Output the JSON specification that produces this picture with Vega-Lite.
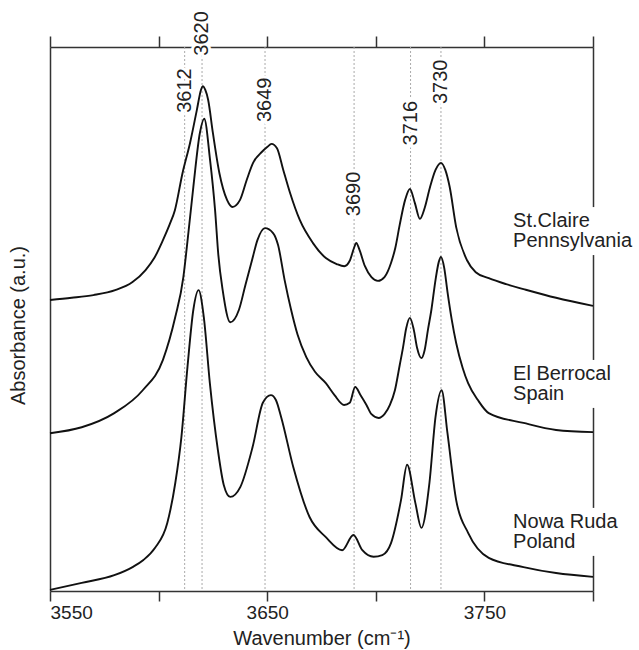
{
  "$schema": "https://vega.github.io/schema/vega-lite/v6.json",
  "autosize": {"type": "none"},
  "padding": {"left": 50, "top": 47, "right": 46, "bottom": 59},
  "width": 543,
  "height": 544,
  "background": "white",
  "config": {
    "font": "Liberation Sans",
    "view": {"stroke": null},
    "axis": {"domainColor": "#333", "domainWidth": 1.5, "tickColor": "#333", "tickWidth": 1.5, "grid": false, "labelColor": "#222", "titleColor": "#222", "titleFontWeight": "normal", "zindex": 0}
  },
  "datasets": {
    "spectra": [
      {"s": "St.Claire", "wn": 3550, "a": 53.5}, {"s": "St.Claire", "wn": 3560, "a": 53.9}, {"s": "St.Claire", "wn": 3570, "a": 54.4}, {"s": "St.Claire", "wn": 3580, "a": 55.3}, {"s": "St.Claire", "wn": 3588, "a": 56.8}, {"s": "St.Claire", "wn": 3594, "a": 59.0}, {"s": "St.Claire", "wn": 3598, "a": 61.2}, {"s": "St.Claire", "wn": 3602, "a": 64.5}, {"s": "St.Claire", "wn": 3605, "a": 67.3}, {"s": "St.Claire", "wn": 3607.5, "a": 70.0}, {"s": "St.Claire", "wn": 3611, "a": 76.8}, {"s": "St.Claire", "wn": 3614.5, "a": 82.4}, {"s": "St.Claire", "wn": 3617.6, "a": 88.4}, {"s": "St.Claire", "wn": 3619.5, "a": 92.1}, {"s": "St.Claire", "wn": 3620.3, "a": 92.8}, {"s": "St.Claire", "wn": 3621.5, "a": 92.1}, {"s": "St.Claire", "wn": 3622.8, "a": 90.3}, {"s": "St.Claire", "wn": 3625, "a": 84.2}, {"s": "St.Claire", "wn": 3628, "a": 76.8}, {"s": "St.Claire", "wn": 3631.5, "a": 71.9}, {"s": "St.Claire", "wn": 3634, "a": 70.6}, {"s": "St.Claire", "wn": 3637.5, "a": 71.9}, {"s": "St.Claire", "wn": 3640.6, "a": 75.6}, {"s": "St.Claire", "wn": 3643.5, "a": 78.7}, {"s": "St.Claire", "wn": 3647.5, "a": 80.7}, {"s": "St.Claire", "wn": 3650, "a": 81.6}, {"s": "St.Claire", "wn": 3652, "a": 82.2}, {"s": "St.Claire", "wn": 3654.5, "a": 81.4}, {"s": "St.Claire", "wn": 3657.4, "a": 77.4}, {"s": "St.Claire", "wn": 3660.5, "a": 73.2}, {"s": "St.Claire", "wn": 3665, "a": 68.2}, {"s": "St.Claire", "wn": 3671, "a": 64.0}, {"s": "St.Claire", "wn": 3677, "a": 61.2}, {"s": "St.Claire", "wn": 3682, "a": 60.1}, {"s": "St.Claire", "wn": 3685.5, "a": 59.7}, {"s": "St.Claire", "wn": 3688, "a": 60.7}, {"s": "St.Claire", "wn": 3690, "a": 63.1}, {"s": "St.Claire", "wn": 3691, "a": 64.0}, {"s": "St.Claire", "wn": 3692.5, "a": 62.7}, {"s": "St.Claire", "wn": 3695, "a": 59.7}, {"s": "St.Claire", "wn": 3698, "a": 57.7}, {"s": "St.Claire", "wn": 3701, "a": 57.0}, {"s": "St.Claire", "wn": 3704, "a": 57.7}, {"s": "St.Claire", "wn": 3707, "a": 60.3}, {"s": "St.Claire", "wn": 3709, "a": 63.1}, {"s": "St.Claire", "wn": 3711, "a": 67.3}, {"s": "St.Claire", "wn": 3713.5, "a": 71.9}, {"s": "St.Claire", "wn": 3715.7, "a": 73.9}, {"s": "St.Claire", "wn": 3718, "a": 71.3}, {"s": "St.Claire", "wn": 3720.3, "a": 68.4}, {"s": "St.Claire", "wn": 3722.5, "a": 70.4}, {"s": "St.Claire", "wn": 3725, "a": 74.3}, {"s": "St.Claire", "wn": 3727.5, "a": 77.4}, {"s": "St.Claire", "wn": 3730, "a": 78.7}, {"s": "St.Claire", "wn": 3732, "a": 77.4}, {"s": "St.Claire", "wn": 3734, "a": 74.3}, {"s": "St.Claire", "wn": 3737, "a": 66.9}, {"s": "St.Claire", "wn": 3742, "a": 60.8}, {"s": "St.Claire", "wn": 3746, "a": 58.6}, {"s": "St.Claire", "wn": 3752, "a": 57.5}, {"s": "St.Claire", "wn": 3760, "a": 56.4}, {"s": "St.Claire", "wn": 3768, "a": 55.5}, {"s": "St.Claire", "wn": 3783, "a": 53.9}, {"s": "St.Claire", "wn": 3800, "a": 52.4},
      {"s": "El Berrocal", "wn": 3550, "a": 29.0}, {"s": "El Berrocal", "wn": 3564.6, "a": 30.1}, {"s": "El Berrocal", "wn": 3579.6, "a": 32.7}, {"s": "El Berrocal", "wn": 3592.7, "a": 36.9}, {"s": "El Berrocal", "wn": 3602, "a": 42.5}, {"s": "El Berrocal", "wn": 3607.7, "a": 50.4}, {"s": "El Berrocal", "wn": 3611.4, "a": 57.7}, {"s": "El Berrocal", "wn": 3613, "a": 63.2}, {"s": "El Berrocal", "wn": 3616, "a": 74.3}, {"s": "El Berrocal", "wn": 3619, "a": 84.2}, {"s": "El Berrocal", "wn": 3621, "a": 86.8}, {"s": "El Berrocal", "wn": 3623.7, "a": 79.2}, {"s": "El Berrocal", "wn": 3626, "a": 70.0}, {"s": "El Berrocal", "wn": 3627.5, "a": 61.8}, {"s": "El Berrocal", "wn": 3629.5, "a": 55.3}, {"s": "El Berrocal", "wn": 3633, "a": 49.4}, {"s": "El Berrocal", "wn": 3637, "a": 51.7}, {"s": "El Berrocal", "wn": 3640, "a": 56.3}, {"s": "El Berrocal", "wn": 3643, "a": 60.8}, {"s": "El Berrocal", "wn": 3645.5, "a": 64.5}, {"s": "El Berrocal", "wn": 3649, "a": 66.7}, {"s": "El Berrocal", "wn": 3652.7, "a": 65.8}, {"s": "El Berrocal", "wn": 3655, "a": 63.6}, {"s": "El Berrocal", "wn": 3658, "a": 57.2}, {"s": "El Berrocal", "wn": 3661, "a": 51.7}, {"s": "El Berrocal", "wn": 3664, "a": 47.1}, {"s": "El Berrocal", "wn": 3668, "a": 43.0}, {"s": "El Berrocal", "wn": 3672, "a": 40.3}, {"s": "El Berrocal", "wn": 3677, "a": 38.2}, {"s": "El Berrocal", "wn": 3681, "a": 36.0}, {"s": "El Berrocal", "wn": 3685.4, "a": 34.2}, {"s": "El Berrocal", "wn": 3688, "a": 34.6}, {"s": "El Berrocal", "wn": 3690.5, "a": 37.5}, {"s": "El Berrocal", "wn": 3693, "a": 36.0}, {"s": "El Berrocal", "wn": 3695.7, "a": 34.2}, {"s": "El Berrocal", "wn": 3698, "a": 32.5}, {"s": "El Berrocal", "wn": 3701.3, "a": 31.8}, {"s": "El Berrocal", "wn": 3704, "a": 32.5}, {"s": "El Berrocal", "wn": 3706.5, "a": 34.2}, {"s": "El Berrocal", "wn": 3708.8, "a": 36.9}, {"s": "El Berrocal", "wn": 3711, "a": 41.5}, {"s": "El Berrocal", "wn": 3712.5, "a": 44.7}, {"s": "El Berrocal", "wn": 3714, "a": 48.3}, {"s": "El Berrocal", "wn": 3715.7, "a": 50.2}, {"s": "El Berrocal", "wn": 3717.5, "a": 48.0}, {"s": "El Berrocal", "wn": 3719, "a": 44.7}, {"s": "El Berrocal", "wn": 3721, "a": 42.8}, {"s": "El Berrocal", "wn": 3722.5, "a": 44.3}, {"s": "El Berrocal", "wn": 3724, "a": 48.0}, {"s": "El Berrocal", "wn": 3725.6, "a": 51.7}, {"s": "El Berrocal", "wn": 3727.5, "a": 57.2}, {"s": "El Berrocal", "wn": 3729, "a": 60.5}, {"s": "El Berrocal", "wn": 3730, "a": 61.4}, {"s": "El Berrocal", "wn": 3731.5, "a": 59.4}, {"s": "El Berrocal", "wn": 3733, "a": 55.0}, {"s": "El Berrocal", "wn": 3735, "a": 49.8}, {"s": "El Berrocal", "wn": 3737, "a": 45.6}, {"s": "El Berrocal", "wn": 3740, "a": 41.0}, {"s": "El Berrocal", "wn": 3742.5, "a": 38.2}, {"s": "El Berrocal", "wn": 3747, "a": 35.1}, {"s": "El Berrocal", "wn": 3752, "a": 32.7}, {"s": "El Berrocal", "wn": 3768, "a": 30.9}, {"s": "El Berrocal", "wn": 3783, "a": 29.6}, {"s": "El Berrocal", "wn": 3800, "a": 29.2},
      {"s": "Nowa Ruda", "wn": 3550, "a": 0.2}, {"s": "Nowa Ruda", "wn": 3564.6, "a": 1.5}, {"s": "Nowa Ruda", "wn": 3579.6, "a": 2.9}, {"s": "Nowa Ruda", "wn": 3588, "a": 4.4}, {"s": "Nowa Ruda", "wn": 3593, "a": 5.7}, {"s": "Nowa Ruda", "wn": 3598.3, "a": 7.9}, {"s": "Nowa Ruda", "wn": 3604, "a": 12.5}, {"s": "Nowa Ruda", "wn": 3607.7, "a": 19.9}, {"s": "Nowa Ruda", "wn": 3610.5, "a": 28.3}, {"s": "Nowa Ruda", "wn": 3613.3, "a": 41.2}, {"s": "Nowa Ruda", "wn": 3616, "a": 51.7}, {"s": "Nowa Ruda", "wn": 3618.4, "a": 55.3}, {"s": "Nowa Ruda", "wn": 3620.8, "a": 50.4}, {"s": "Nowa Ruda", "wn": 3623.6, "a": 38.2}, {"s": "Nowa Ruda", "wn": 3627.3, "a": 25.9}, {"s": "Nowa Ruda", "wn": 3630, "a": 19.5}, {"s": "Nowa Ruda", "wn": 3633, "a": 17.3}, {"s": "Nowa Ruda", "wn": 3637.6, "a": 19.1}, {"s": "Nowa Ruda", "wn": 3643.3, "a": 26.5}, {"s": "Nowa Ruda", "wn": 3648, "a": 34.6}, {"s": "Nowa Ruda", "wn": 3651.7, "a": 36.0}, {"s": "Nowa Ruda", "wn": 3654, "a": 35.1}, {"s": "Nowa Ruda", "wn": 3656.4, "a": 32.0}, {"s": "Nowa Ruda", "wn": 3662, "a": 22.8}, {"s": "Nowa Ruda", "wn": 3669.5, "a": 13.6}, {"s": "Nowa Ruda", "wn": 3677, "a": 9.9}, {"s": "Nowa Ruda", "wn": 3684.5, "a": 7.5}, {"s": "Nowa Ruda", "wn": 3689.7, "a": 10.3}, {"s": "Nowa Ruda", "wn": 3693.8, "a": 7.5}, {"s": "Nowa Ruda", "wn": 3699, "a": 6.3}, {"s": "Nowa Ruda", "wn": 3703, "a": 6.6}, {"s": "Nowa Ruda", "wn": 3707, "a": 8.8}, {"s": "Nowa Ruda", "wn": 3711.6, "a": 16.7}, {"s": "Nowa Ruda", "wn": 3714.4, "a": 23.2}, {"s": "Nowa Ruda", "wn": 3718.2, "a": 16.2}, {"s": "Nowa Ruda", "wn": 3721, "a": 11.6}, {"s": "Nowa Ruda", "wn": 3724.7, "a": 19.9}, {"s": "Nowa Ruda", "wn": 3727.5, "a": 32.0}, {"s": "Nowa Ruda", "wn": 3730.3, "a": 36.9}, {"s": "Nowa Ruda", "wn": 3733, "a": 29.0}, {"s": "Nowa Ruda", "wn": 3737, "a": 16.7}, {"s": "Nowa Ruda", "wn": 3742.5, "a": 10.7}, {"s": "Nowa Ruda", "wn": 3752, "a": 6.1}, {"s": "Nowa Ruda", "wn": 3768, "a": 4.4}, {"s": "Nowa Ruda", "wn": 3783, "a": 3.3}, {"s": "Nowa Ruda", "wn": 3800, "a": 2.6}
    ],
    "peaks": [
      {"wn": 3612, "label": "3612", "ly": 92.0},
      {"wn": 3620, "label": "3620", "ly": 102.5},
      {"wn": 3649, "label": "3649", "ly": 90.3},
      {"wn": 3690, "label": "3690", "ly": 73.0},
      {"wn": 3716, "label": "3716", "ly": 86.0},
      {"wn": 3730, "label": "3730", "ly": 93.6}
    ],
    "names": [
      {"name": "St.Claire\nPennsylvania", "wn": 3763.2, "ly": 66.9},
      {"name": "El Berrocal\nSpain", "wn": 3763.2, "ly": 38.8},
      {"name": "Nowa Ruda\nPoland", "wn": 3763.2, "ly": 11.6}
    ]
  },
  "resolve": {"axis": {"x": "independent", "y": "independent"}},
  "layer": [
    {
      "data": {"name": "peaks"},
      "mark": {"type": "rule", "color": "#aaa", "strokeDash": [2, 2], "strokeWidth": 1},
      "encoding": {
        "x": {"field": "wn", "type": "quantitative", "scale": {"domain": [3550, 3800], "nice": false, "zero": false},
          "axis": {"orient": "top", "values": [3550, 3600, 3650, 3700, 3750, 3800], "labels": false, "tickSize": 11, "title": null, "domain": true}}
      }
    },
    {
      "data": {"name": "spectra"},
      "mark": {"type": "line", "color": "#111", "strokeWidth": 1.9, "interpolate": "monotone"},
      "encoding": {
        "x": {"field": "wn", "type": "quantitative", "scale": {"domain": [3550, 3800], "nice": false, "zero": false},
          "axis": {"orient": "bottom", "values": [3550, 3600, 3650, 3700, 3750, 3800], "labelExpr": "(datum.value - 3550) % 100 == 0 ? datum.label : ''", "format": "d", "tickSize": 10, "labelFontSize": 19, "labelPadding": 2, "title": "Wavenumber (cm⁻¹)", "titleFontSize": 20, "titlePadding": 6}},
        "y": {"field": "a", "type": "quantitative", "scale": {"domain": [0, 100], "nice": false, "zero": false},
          "axis": {"orient": "left", "ticks": false, "labels": false, "title": "Absorbance (a.u.)", "titleFontSize": 20, "titlePadding": 22, "titleY": 278}},
        "detail": {"field": "s"}
      }
    },
    {
      "data": {"name": "peaks"},
      "mark": {"type": "text", "angle": 270, "align": "center", "baseline": "middle", "fontSize": 20, "fill": "white", "stroke": "white", "strokeWidth": 6},
      "encoding": {
        "x": {"field": "wn", "type": "quantitative", "axis": null},
        "y": {"field": "ly", "type": "quantitative", "axis": null},
        "text": {"field": "label"}
      }
    },
    {
      "data": {"name": "peaks"},
      "mark": {"type": "text", "angle": 270, "align": "center", "baseline": "middle", "fontSize": 20, "color": "#222"},
      "encoding": {
        "x": {"field": "wn", "type": "quantitative", "axis": null},
        "y": {"field": "ly", "type": "quantitative", "axis": null},
        "text": {"field": "label"}
      }
    },
    {
      "data": {"name": "names"},
      "mark": {"type": "rect", "color": "white", "xOffset": -5, "x2Offset": 5, "yOffset": 28, "y2Offset": -20},
      "encoding": {
        "x": {"datum": 3800, "type": "quantitative", "axis": null},
        "x2": {"datum": 3800},
        "y": {"field": "ly", "type": "quantitative",
          "axis": {"orient": "right", "ticks": false, "labels": false, "title": null, "domain": true}},
        "y2": {"field": "ly"}
      }
    },
    {
      "data": {"name": "names"},
      "mark": {"type": "text", "align": "left", "baseline": "alphabetic", "fontSize": 20, "lineBreak": "\n", "lineHeight": 20, "color": "#222"},
      "encoding": {
        "x": {"field": "wn", "type": "quantitative", "axis": null},
        "y": {"field": "ly", "type": "quantitative", "axis": null},
        "text": {"field": "name"}
      }
    }
  ]
}
